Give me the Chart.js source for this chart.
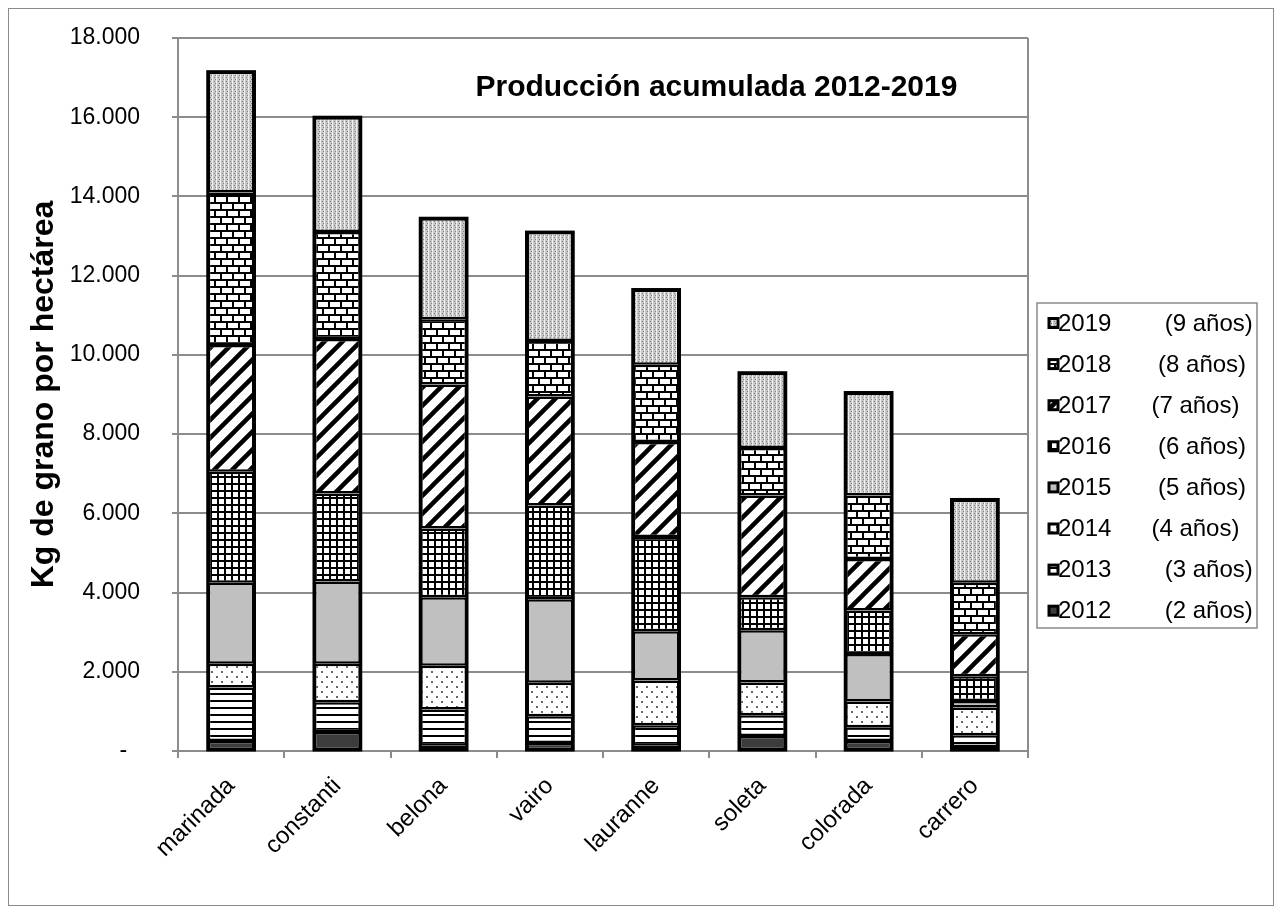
<!DOCTYPE html>
<html>
<head>
<meta charset="utf-8">
<script src="https://cdn.jsdelivr.net/npm/chart.js@4.4.1/dist/chart.umd.min.js"></script>
<style>
  html, body { margin: 0; padding: 0; background: #fff; }
  #frame { position: absolute; left: 8px; top: 8px; width: 1264px; height: 896px; border: 1px solid #8a8a8a; }
  #chart { position: absolute; left: 0; top: 0; }
</style>
</head>
<body>
<div id="frame"></div>
<canvas id="chart" width="1282" height="914"></canvas>
<script>
// Producción acumulada por variedad, kg de grano por hectárea
const varieties = ['marinada', 'constanti', 'belona', 'vairo', 'lauranne', 'soleta', 'colorada', 'carrero'];
const years = ['2012', '2013', '2014', '2015', '2016', '2017', '2018', '2019'];
const ageNotes = ['(2 años)', '(3 años)', '(4 años)', '(5 años)', '(6 años)', '(7 años)', '(8 años)', '(9 años)'];
const legendGaps = [8, 8, 6, 7, 7, 6, 7, 8]; // spaces between year and note, as in the original legend

const y2012 = [250, 480, 130, 200, 130, 380, 250, 100];
const y2013 = [1350, 750, 920, 680, 520, 520, 350, 300];
const y2014 = [600, 970, 1100, 840, 1130, 830, 650, 700];
const y2015 = [2050, 2080, 1730, 2110, 1240, 1320, 1200, 160];
const y2016 = [2800, 2220, 1740, 2370, 2380, 830, 1100, 630];
const y2017 = [3200, 3900, 3630, 2750, 2400, 2570, 1300, 1060];
const y2018 = [3850, 2700, 1650, 1400, 1950, 1200, 1600, 1300];
const y2019 = [3050, 2900, 2550, 2750, 1900, 1900, 2600, 2100];

const chartTitle = 'Producción acumulada 2012-2019';
const yTitle = 'Kg de grano por hectárea';

Chart.defaults.font.family = '"Liberation Sans", Arial, sans-serif';
Chart.defaults.color = '#000';

const canvas = document.getElementById('chart');
const ctx = canvas.getContext('2d');

// small tiles used as fill patterns (black & white print style)
function makePattern(w, h, draw) {
  const tile = document.createElement('canvas');
  tile.width = w;
  tile.height = h;
  const g = tile.getContext('2d');
  g.fillStyle = '#fff';
  g.fillRect(0, 0, w, h);
  draw(g, w, h);
  return ctx.createPattern(tile, 'repeat');
}

const fills = [
  '#3c3c3c',
  makePattern(4, 7, g => { g.fillStyle = '#000'; g.fillRect(0, 0, 4, 2); }),
  makePattern(10, 10, g => {
    g.fillStyle = '#666';
    g.fillRect(1, 1, 2, 2);
    g.fillRect(6, 6, 2, 2);
  }),
  '#c0c0c0',
  makePattern(7, 7, g => {
    g.fillStyle = '#000';
    g.fillRect(0, 0, 7, 2);
    g.fillRect(0, 0, 2, 7);
  }),
  makePattern(18, 18, g => {
    g.strokeStyle = '#000';
    g.lineWidth = 4.5;
    g.beginPath();
    g.moveTo(-9, 9); g.lineTo(9, -9);
    g.moveTo(0, 18); g.lineTo(18, 0);
    g.moveTo(9, 27); g.lineTo(27, 9);
    g.stroke();
  }),
  makePattern(12, 14, g => {
    g.fillStyle = '#000';
    g.fillRect(0, 0, 12, 14);
    g.fillStyle = '#fff';
    g.fillRect(0, 1, 10, 5);
    g.fillRect(6, 8, 10, 5);
    g.fillRect(-6, 8, 10, 5);
  }),
  makePattern(4, 4, g => {
    g.fillStyle = '#c8c8c8';
    g.fillRect(0, 0, 4, 4);
    g.fillStyle = '#f0f0f0';
    g.fillRect(0, 0, 1, 4);
    g.fillStyle = '#808080';
    g.fillRect(2, 1, 1, 1);
    g.fillRect(3, 3, 1, 1);
  })
];

const series = [y2012, y2013, y2014, y2015, y2016, y2017, y2018, y2019];

const datasets = series.map((values, i) => ({
  label: years[i] + ' '.repeat(legendGaps[i]) + ageNotes[i],
  data: values,
  backgroundColor: fills[i],
  borderColor: '#000',
  borderWidth: 2.5,
  borderSkipped: false,
  barPercentage: 0.44,
  categoryPercentage: 1
}));

function thousands(v) {
  return String(v).replace(/\B(?=(\d{3})+(?!\d))/g, '.');
}

// heavier outline around each whole stacked column
const columnOutline = {
  id: 'columnOutline',
  afterDatasetsDraw(chart) {
    const { ctx } = chart;
    const first = chart.getDatasetMeta(0).data;
    const last = chart.getDatasetMeta(chart.data.datasets.length - 1).data;
    ctx.save();
    ctx.strokeStyle = '#000';
    ctx.lineWidth = 3;
    first.forEach((bar, i) => {
      const top = last[i];
      const half = bar.width / 2;
      ctx.strokeRect(bar.x - half, top.y, bar.width, bar.base - top.y);
    });
    ctx.restore();
  }
};

// title sits inside the plot area, and the plot area has a right border
const insideTitle = {
  id: 'insideTitle',
  afterDraw(chart) {
    const { ctx, chartArea } = chart;
    ctx.save();
    ctx.strokeStyle = '#8c8c8c';
    ctx.lineWidth = 2;
    ctx.beginPath();
    ctx.moveTo(chartArea.right, chartArea.top);
    ctx.lineTo(chartArea.right, chartArea.bottom);
    ctx.stroke();
    ctx.fillStyle = '#000';
    ctx.font = 'bold 30px "Liberation Sans", Arial, sans-serif';
    ctx.textAlign = 'center';
    ctx.textBaseline = 'middle';
    ctx.fillText(chartTitle, chartArea.left + chartArea.width * 0.6335, chartArea.top + 50);
    ctx.restore();
  }
};

// boxed legend on the right, newest year on top
const boxedLegend = {
  id: 'boxedLegend',
  afterDraw(chart) {
    const { ctx, chartArea } = chart;
    const left = chartArea.right + 9;
    const top = 303;
    const rowH = 41.1;
    ctx.save();
    ctx.strokeStyle = '#8a8a8a';
    ctx.lineWidth = 1.5;
    ctx.strokeRect(left, top, 220, 325);
    ctx.font = '24px "Liberation Sans", Arial, sans-serif';
    ctx.textBaseline = 'middle';
    ctx.textAlign = 'left';
    const ds = chart.data.datasets;
    for (let r = 0; r < ds.length; r++) {
      const d = ds[ds.length - 1 - r];
      const cy = top + 20 + r * rowH;
      ctx.fillStyle = d.backgroundColor;
      ctx.fillRect(left + 12, cy - 4.5, 9, 9);
      ctx.strokeStyle = '#000';
      ctx.lineWidth = 3;
      ctx.strokeRect(left + 12, cy - 4.5, 9, 9);
      ctx.fillStyle = '#000';
      ctx.fillText(d.label, left + 21, cy + 1);
    }
    ctx.restore();
  }
};

new Chart(ctx, {
  type: 'bar',
  data: { labels: varieties, datasets },
  options: {
    responsive: false,
    animation: false,
    layout: { padding: { left: 20, top: 38, right: 254, bottom: 20 } },
    plugins: {
      legend: { display: false },
      tooltip: { enabled: false }
    },
    scales: {
      x: {
        stacked: true,
        ticks: { color: '#000', font: { size: 24 }, minRotation: 45, maxRotation: 45, padding: 14 },
        grid: { offset: true, drawOnChartArea: false, drawTicks: true, tickLength: 7, color: '#8c8c8c', lineWidth: 2 },
        border: { color: '#8c8c8c', width: 2 },
        afterFit(scale) { scale.height = 143; }
      },
      y: {
        stacked: true,
        min: 0,
        max: 18000,
        ticks: {
          stepSize: 2000,
          padding: 32,
          color: '#000',
          font: { size: 23 },
          callback: v => (v === 0 ? '-  ' : thousands(v))
        },
        grid: { color: '#8c8c8c', lineWidth: 2, tickLength: 6, tickColor: '#8c8c8c' },
        border: { color: '#8c8c8c', width: 2 },
        title: {
          display: true,
          text: yTitle,
          color: '#000',
          font: { size: 32, weight: 'bold' },
          padding: { top: 5, bottom: 0 }
        },
        afterFit(scale) {
          scale.width = 158;
          // the label padding should not push the plot area down
          scale.paddingTop = 12;
          scale.paddingBottom = 12;
        }
      }
    }
  },
  plugins: [columnOutline, insideTitle, boxedLegend]
});
</script>
</body>
</html>
